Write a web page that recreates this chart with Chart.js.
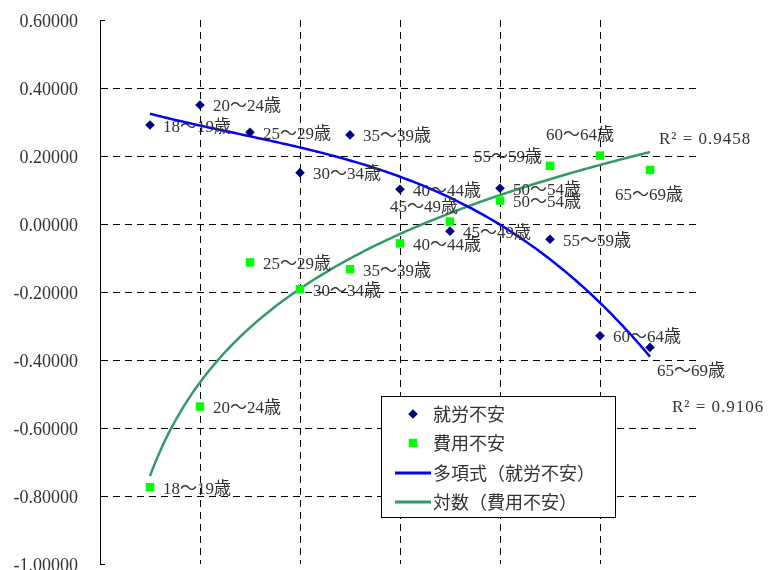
<!DOCTYPE html>
<html>
<head>
<meta charset="utf-8">
<script src="https://cdn.jsdelivr.net/npm/chart.js@4/dist/chart.umd.min.js"></script>
<style>
  html, body { margin: 0; padding: 0; background: #ffffff; overflow: hidden; }
  #wrap { width: 770px; height: 570px; }
</style>
</head>
<body>
<div id="wrap"><canvas id="chart" width="770" height="570"></canvas></div>
<script>
// Age groups and their positions on the horizontal axis
const ageGroups = ['18～19歳', '20～24歳', '25～29歳', '30～34歳', '35～39歳', '40～44歳',
                   '45～49歳', '50～54歳', '55～59歳', '60～64歳', '65～69歳'];
const ageIndex = [1, 2, 3, 4, 5, 6, 7, 8, 9, 10, 11];

// Scores per age group
const jobAnxiety  = [0.291, 0.350, 0.270, 0.151, 0.262, 0.102, -0.021, 0.105, -0.045, -0.329, -0.363];
const costAnxiety = [-0.774, -0.537, -0.113, -0.192, -0.133, -0.057, 0.007, 0.069, 0.171, 0.201, 0.159];

// Series names
const seriesNames = ['就労不安', '費用不安', '多項式（就労不安）', '対数（費用不安）'];

// Vertical axis ticks
const yTickValues = [0.6, 0.4, 0.2, 0.0, -0.2, -0.4, -0.6, -0.8, -1.0];
const yTickLabels = ['0.60000', '0.40000', '0.20000', '0.00000', '-0.20000', '-0.40000', '-0.60000', '-0.80000', '-1.00000'];

// Coefficients of determination of the two trend lines
const r2Labels = ['R² = 0.9458', 'R² = 0.9106'];

// ---- least-squares fitting -------------------------------------------------
function polyFit(xs, ys, deg) {
  const n = deg + 1;
  const A = Array.from({ length: n }, () => new Array(n + 1).fill(0));
  for (let i = 0; i < xs.length; i++) {
    for (let r = 0; r < n; r++) {
      for (let c = 0; c < n; c++) A[r][c] += Math.pow(xs[i], r + c);
      A[r][n] += ys[i] * Math.pow(xs[i], r);
    }
  }
  for (let k = 0; k < n; k++) {
    let p = k;
    for (let r = k + 1; r < n; r++) if (Math.abs(A[r][k]) > Math.abs(A[p][k])) p = r;
    [A[k], A[p]] = [A[p], A[k]];
    for (let r = 0; r < n; r++) {
      if (r === k) continue;
      const f = A[r][k] / A[k][k];
      for (let c = k; c <= n; c++) A[r][c] -= f * A[k][c];
    }
  }
  return A.map((row, k) => row[n] / row[k]);
}
const polyCoef = polyFit(ageIndex, jobAnxiety, 3);
const logCoef = polyFit(ageIndex.map(Math.log), costAnxiety, 1);
const polyAt = x => polyCoef.reduce((s, c, i) => s + c * Math.pow(x, i), 0);
const logAt = x => logCoef[0] + logCoef[1] * Math.log(x);

function trendPoints(fn) {
  const pts = [];
  const x0 = ageIndex[0], x1 = ageIndex[ageIndex.length - 1];
  for (let k = 0; k <= 200; k++) {
    const x = x0 + (x1 - x0) * k / 200;
    pts.push({ x, y: fn(x) });
  }
  return pts;
}

// ---- styling ---------------------------------------------------------------
const TEXT = '#333333';
const LABEL_FONT = '17px "Liberation Serif", "Noto Sans CJK JP", serif';
const LEGEND_FONT = '18px "Noto Sans CJK JP", sans-serif';
const DASH = [7, 5];

// label offsets (px) from each marker; defaults to the right of the point
const LABEL_DX = 13, LABEL_DY = 2;
const labelShift = {
  0: { 10: [7, 24] },
  1: { 6: [-60, -14], 8: [-76, -8], 9: [-54, -20], 10: [-35, 26] }
};

const toXY = ys => ys.map((y, i) => ({ x: ageIndex[i], y }));

// per-point age labels and R² notes
const pointLabelPlugin = {
  id: 'pointLabels',
  afterDatasetsDraw(chart) {
    const ctx = chart.ctx;
    ctx.save();
    ctx.font = LABEL_FONT;
    ctx.fillStyle = TEXT;
    ctx.textAlign = 'left';
    ctx.textBaseline = 'middle';
    [0, 1].forEach(di => {
      const meta = chart.getDatasetMeta(di);
      meta.data.forEach((el, i) => {
        const s = (labelShift[di] && labelShift[di][i]) || [LABEL_DX, LABEL_DY];
        ctx.fillText(ageGroups[i], el.x + s[0], el.y + s[1]);
      });
    });
    const xs = chart.scales.x, ys = chart.scales.y;
    const xEnd = ageIndex[ageIndex.length - 1];
    const xe = xs.getPixelForValue(xEnd);
    if ('letterSpacing' in ctx) ctx.letterSpacing = '1px';
    ctx.fillText(r2Labels[0], xe + 9, ys.getPixelForValue(logAt(xEnd)) - 13);
    ctx.fillText(r2Labels[1], xe + 22, ys.getPixelForValue(polyAt(xEnd)) + 51);
    ctx.restore();
  }
};

// small inward tick marks on the vertical axis
const axisTickPlugin = {
  id: 'axisTicks',
  afterDraw(chart) {
    const ctx = chart.ctx, y = chart.scales.y, left = chart.chartArea.left;
    ctx.save();
    ctx.strokeStyle = '#000';
    ctx.lineWidth = 1;
    ctx.beginPath();
    yTickValues.forEach(v => {
      const py = Math.round(y.getPixelForValue(v)) + 0.5;
      ctx.moveTo(left, py);
      ctx.lineTo(left + 5, py);
    });
    ctx.stroke();
    ctx.restore();
  }
};

// boxed legend inside the plot
const boxLegendPlugin = {
  id: 'boxLegend',
  afterDraw(chart) {
    const ctx = chart.ctx;
    const box = { x: 381.5, y: 396.5, w: 234, h: 121 };
    ctx.save();
    ctx.fillStyle = '#ffffff';
    ctx.fillRect(box.x, box.y, box.w, box.h);
    ctx.strokeStyle = '#000';
    ctx.lineWidth = 1;
    ctx.strokeRect(box.x, box.y, box.w, box.h);
    const rows = [414, 443, 473, 502];
    ctx.font = LEGEND_FONT;
    ctx.textBaseline = 'middle';
    chart.data.datasets.forEach((ds, i) => {
      const ry = rows[i];
      if (ds.showLine) {
        ctx.strokeStyle = ds.borderColor;
        ctx.lineWidth = 3;
        ctx.beginPath();
        ctx.moveTo(395, ry);
        ctx.lineTo(431, ry);
        ctx.stroke();
      } else {
        ctx.fillStyle = ds.backgroundColor;
        Chart.helpers.drawPoint(ctx, { pointStyle: ds.pointStyle, radius: ds.pointRadius, rotation: 0, borderWidth: 0 }, 413, ry);
      }
      ctx.fillStyle = TEXT;
      ctx.fillText(ds.label, 433, ry);
    });
    ctx.restore();
  }
};

const gridColor = edgeValues => c => (c.tick && edgeValues.includes(c.tick.value)) ? 'rgba(0,0,0,0)' : '#000000';

new Chart(document.getElementById('chart'), {
  type: 'scatter',
  data: {
    datasets: [
      { label: seriesNames[0], data: toXY(jobAnxiety), pointStyle: 'rectRot', pointRadius: 4.8,
        backgroundColor: '#000080', borderColor: '#000080', borderWidth: 0, showLine: false },
      { label: seriesNames[1], data: toXY(costAnxiety), pointStyle: 'rect', pointRadius: 6,
        backgroundColor: '#00ff00', borderColor: '#00ff00', borderWidth: 0, showLine: false },
      { label: seriesNames[2], data: trendPoints(polyAt), showLine: true, pointRadius: 0,
        borderColor: '#0000ff', backgroundColor: '#0000ff', borderWidth: 2.5, tension: 0, fill: false },
      { label: seriesNames[3], data: trendPoints(logAt), showLine: true, pointRadius: 0,
        borderColor: '#339966', backgroundColor: '#339966', borderWidth: 2.5, tension: 0, fill: false }
    ]
  },
  options: {
    responsive: false,
    animation: false,
    devicePixelRatio: 1,
    layout: { padding: { top: 20, bottom: 2, right: 70, left: 0 } },
    plugins: { legend: { display: false }, tooltip: { enabled: false } },
    scales: {
      x: {
        type: 'linear', min: 0, max: 12,
        ticks: { display: false, stepSize: 2 },
        grid: { color: gridColor([0, 12]), drawTicks: false, lineWidth: 1 },
        border: { display: false, dash: DASH }
      },
      y: {
        type: 'linear', min: -1, max: 0.6,
        afterBuildTicks: s => { s.ticks = yTickValues.map(v => ({ value: v })); },
        afterFit: s => { s.width = 100; s.paddingTop = 0; s.paddingBottom = 0; },
        ticks: {
          padding: 22, color: TEXT, labelOffset: 2,
          font: { family: '"Liberation Serif", "Noto Sans CJK JP", serif', size: 18 },
          callback: v => { const k = yTickValues.findIndex(t => Math.abs(t - v) < 1e-9); return k >= 0 ? yTickLabels[k] : ''; }
        },
        grid: { color: gridColor([0.6, -1.0]), drawTicks: false, lineWidth: 1 },
        border: { display: true, color: '#000000', width: 1, dash: DASH }
      }
    }
  },
  plugins: [pointLabelPlugin, axisTickPlugin, boxLegendPlugin]
});
</script>
</body>
</html>
